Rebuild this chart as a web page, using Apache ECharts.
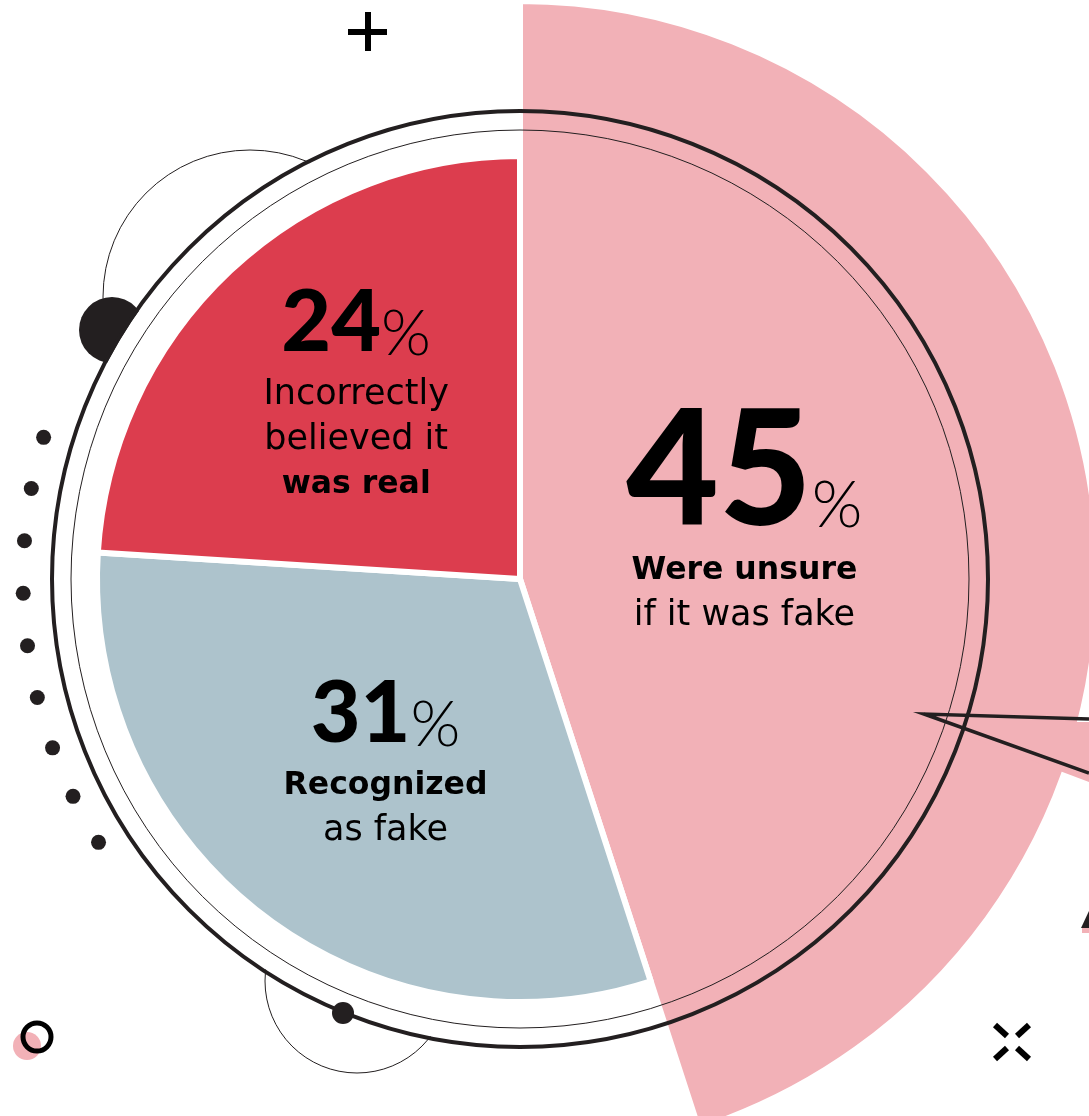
<!DOCTYPE html>
<html>
<head>
<meta charset="utf-8">
<script src="https://cdn.jsdelivr.net/npm/echarts@6/dist/echarts.min.js"></script>
<style>
  html, body { margin: 0; padding: 0; background: #fff; }
  #chart { width: 1089px; height: 1116px; }
</style>
</head>
<body>
<div id="chart"></div>
<script>
// data
var categories = ['Were unsure', 'Recognized as fake', 'Incorrectly believed it was real'];
var shares = [45, 31, 24];
var captionLines = [
  ['Were unsure', 'if it was fake'],
  ['Recognized', 'as fake'],
  ['Incorrectly', 'believed it', 'was real']
];
var boldLine = [0, 0, 2];

// look
var colors = ['#f2b1b7', '#adc3cc', '#dc3d4e'];
var ink = '#231f20';
var cx = 520, cy = 579;
var labelShift = [[-64, -10], [-3, 14], [-17, -29]];

var myChart = echarts.init(document.getElementById('chart'));

function caption(i) {
  var big = i === 0;
  var s = '{' + (big ? 'big' : 'num') + '|' + shares[i] + '}{' + (big ? 'bigpct' : 'pct') + '|%}';
  s += '\n{' + (big ? 'bigsp' : 'sp') + '| }';
  captionLines[i].forEach(function (t, k) {
    s += '\n{' + (k === boldLine[i] ? 'b' : 'l') + '|' + t + '}';
  });
  return s;
}

var richStyles = {
  big: { fontFamily: 'Lato', fontWeight: 900, fontSize: 160, lineHeight: 130, color: '#000' },
  bigpct: { fontFamily: 'Lato', fontWeight: 300, fontSize: 65, lineHeight: 80, verticalAlign: 'bottom', color: '#000' },
  bigsp: { fontSize: 4, lineHeight: 10 },
  num: { fontFamily: 'Lato', fontWeight: 900, fontSize: 86, lineHeight: 86, color: '#000' },
  pct: { fontFamily: 'Lato', fontWeight: 300, fontSize: 64, lineHeight: 72, verticalAlign: 'bottom', color: '#000' },
  sp: { fontSize: 4, lineHeight: 6 },
  l: { fontFamily: 'DejaVu Sans', fontWeight: 'normal', fontSize: 35, lineHeight: 45, color: '#000' },
  b: { fontFamily: 'DejaVu Sans', fontWeight: 'bold', fontSize: 31.5, lineHeight: 45, color: '#000' }
};

function pieData(visible) {
  return shares.map(function (v, i) {
    var on = visible.indexOf(i) >= 0;
    return {
      name: categories[i],
      value: v,
      itemStyle: {
        color: on ? colors[i] : 'transparent',
        borderColor: on ? '#fff' : 'transparent',
        borderWidth: 6
      },
      label: { show: on }
    };
  });
}

function pieSeries(radius, visible) {
  return {
    type: 'pie',
    center: [cx, cy],
    radius: [0, radius],
    startAngle: 90,
    clockwise: true,
    silent: true,
    avoidLabelOverlap: false,
    z: 2,
    label: {
      position: 'inside',
      formatter: function (p) { return caption(p.dataIndex); },
      rich: richStyles
    },
    labelLine: { show: false },
    labelLayout: function (p) {
      return { dx: labelShift[p.dataIndex][0], dy: labelShift[p.dataIndex][1] };
    },
    emphasis: { disabled: true },
    data: pieData(visible)
  };
}

// decorations
var graphics = [
  { type: 'circle', z: 0, shape: { cx: 250, cy: 297, r: 147 }, style: { fill: 'none', stroke: ink, lineWidth: 1 } },
  { type: 'circle', z: 0, shape: { cx: 357, cy: 981, r: 92 }, style: { fill: 'none', stroke: ink, lineWidth: 1 } },
  { type: 'circle', z: 0, shape: { cx: 112, cy: 330, r: 33 }, style: { fill: ink } },
  { type: 'circle', z: 1, shape: { cx: cx, cy: cy, r: 466 }, style: { fill: '#fff' } },
  // pointer
  { type: 'polygon', z: 3, shape: { points: [[930, 722], [1089, 722], [1089, 782]] }, style: { fill: colors[0] } },
  { type: 'polygon', z: 3, shape: { points: [[1081, 928], [1089, 911], [1089, 928]] }, style: { fill: ink } },
  { type: 'rect', z: 3, shape: { x: 1082, y: 928, width: 7, height: 5 }, style: { fill: colors[0] } },
  { type: 'polyline', z: 5, shape: { points: [[1089, 719], [924, 714], [1089, 773]] }, style: { fill: 'none', stroke: ink, lineWidth: 3.5, lineJoin: 'miter' } },
  // rings
  { type: 'circle', z: 5, shape: { cx: cx, cy: cy, r: 468 }, style: { fill: 'none', stroke: ink, lineWidth: 4 } },
  { type: 'circle', z: 5, shape: { cx: cx, cy: cy, r: 449 }, style: { fill: 'none', stroke: ink, lineWidth: 1 } },
  { type: 'circle', z: 6, shape: { cx: 343, cy: 1013, r: 11 }, style: { fill: ink } },
  // plus
  { type: 'rect', z: 5, shape: { x: 348, y: 29, width: 39, height: 6 }, style: { fill: '#000' } },
  { type: 'rect', z: 5, shape: { x: 365, y: 12, width: 6, height: 39 }, style: { fill: '#000' } },
  // cross
  { type: 'line', z: 5, shape: { x1: 995, y1: 1025, x2: 1007, y2: 1036 }, style: { stroke: '#000', lineWidth: 6 } },
  { type: 'line', z: 5, shape: { x1: 1029, y1: 1025, x2: 1017, y2: 1036 }, style: { stroke: '#000', lineWidth: 6 } },
  { type: 'line', z: 5, shape: { x1: 1007, y1: 1048, x2: 995, y2: 1059 }, style: { stroke: '#000', lineWidth: 6 } },
  { type: 'line', z: 5, shape: { x1: 1017, y1: 1048, x2: 1029, y2: 1059 }, style: { stroke: '#000', lineWidth: 6 } },
  // small ring
  { type: 'circle', z: 4, shape: { cx: 27, cy: 1046, r: 14 }, style: { fill: colors[0] } },
  { type: 'circle', z: 5, shape: { cx: 37, cy: 1037, r: 14 }, style: { fill: 'none', stroke: '#000', lineWidth: 5 } }
];

for (var k = 0; k < 9; k++) {
  var a = (148 + k * 6.07) * Math.PI / 180;
  graphics.push({
    type: 'circle', z: 5,
    shape: { cx: cx + 497 * Math.cos(a), cy: cy + 497 * Math.sin(a), r: 7.5 },
    style: { fill: ink }
  });
}

var option = {
  animation: false,
  backgroundColor: '#fff',
  graphic: { elements: graphics },
  series: [
    pieSeries(578, [0]),
    pieSeries(423, [1, 2])
  ]
};

myChart.setOption(option);
</script>
</body>
</html>
